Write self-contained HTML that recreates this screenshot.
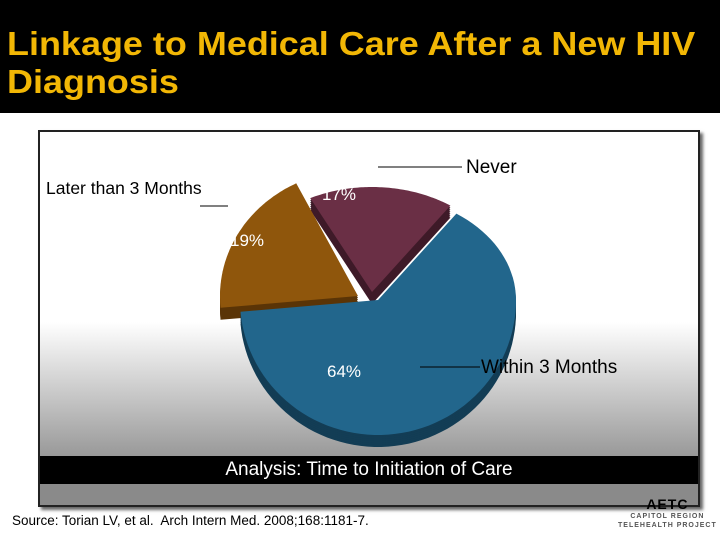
<!DOCTYPE html>
<html><head><meta charset="utf-8"><style>
body{margin:0;width:720px;height:540px;background:#fff;position:relative;overflow:hidden;font-family:"Liberation Sans",sans-serif}
#title{position:absolute;left:0;top:0;width:720px;height:113px;background:#000}
#title div{position:absolute;left:7px;top:25px;color:#f2b705;font-size:33px;line-height:38px;font-weight:bold;transform:scaleX(1.09);transform-origin:0 0;white-space:nowrap}
#box{position:absolute;left:38px;top:130px;width:662px;height:377px;box-sizing:border-box;border:2px solid #222;background:linear-gradient(#fff 0px,#fff 190px,#999 324px);box-shadow:3px 3px 3px #666}
#band{position:absolute;left:0;top:324px;width:658px;height:28px;background:#000;color:#fff;font-size:19px;text-align:center;line-height:28px}
#gray{position:absolute;left:0;top:352px;width:658px;height:21px;background:#8a8a8a}
#src{position:absolute;left:12px;top:513px;font-size:13.5px;color:#000}
#logo{position:absolute;left:618px;top:500px;font-size:7px;font-weight:bold;color:#555;text-align:center;letter-spacing:1px;line-height:9px}
</style></head><body>
<div id="title"><div>Linkage to Medical Care After a New HIV<br>Diagnosis</div></div>
<div id="box">
<div id="band">Analysis: Time to Initiation of Care</div>
<div id="gray"></div>
</div>
<svg id="chart" width="720" height="540" style="position:absolute;left:0;top:0"></svg>
<div id="src">Source: Torian LV, et al.&nbsp; Arch Intern Med. 2008;168:1181-7.</div>
<div id="logo"><span style="font-size:14px;color:#000">AETC</span><br>CAPITOL REGION<br>TELEHEALTH PROJECT</div>
<script>
const categories=["Later than 3 Months","Never","Within 3 Months"];
const values=[19,17,64];
const colors=["#8f560c","#6a2f45","#22668c"];
const dark=["#5a3406","#3e1a28","#133d55"];
const offsets=[[-20,-4],[-6,-8],[0,0]];
const topScale=[1.2,1,1];
const svg=document.getElementById('chart');
const NS="http://www.w3.org/2000/svg";
const cx=378,cy=300,rx=138,ryTop=105,ryBot=135,depth=12;
const total=values.reduce((a,b)=>a+b,0);
function pt(a,dx,dy,d,ts){const s=Math.sin(a);return [cx+dx+rx*Math.cos(a),cy+dy+d+(s<0?ryTop*ts:ryBot)*s];}
let start=175*Math.PI/180;
const arcs=[];
values.forEach((v,i)=>{const sweep=v/total*2*Math.PI;arcs.push([start,start+sweep]);start+=sweep;});
function wedge(i,d,fill){
 const [a0,a1]=arcs[i];const [dx,dy]=offsets[i];
 let s=`M${cx+dx},${cy+dy+d}`;
 const n=80;
 for(let k=0;k<=n;k++){const p=pt(a0+(a1-a0)*k/n,dx,dy,d,topScale[i]);s+=` L${p[0].toFixed(1)},${p[1].toFixed(1)}`;}
 const p=document.createElementNS(NS,'path');
 p.setAttribute('d',s+' Z');
 p.setAttribute('fill',fill);
 
 
 svg.appendChild(p);
}
values.forEach((v,i)=>{for(let d=depth;d>0;d-=2)wedge(i,d,dark[i]);});
values.forEach((v,i)=>wedge(i,0,colors[i]));
function line(x1,y1,x2,y2,name){const l=document.createElementNS(NS,'line');l.setAttribute('x1',x1);l.setAttribute('y1',y1);l.setAttribute('x2',x2);l.setAttribute('y2',y2);l.setAttribute('stroke','#000');l.setAttribute('stroke-width','1');


svg.appendChild(l);}
function text(x,y,s,name,fill,size){const t=document.createElementNS(NS,'text');t.setAttribute('x',x);t.setAttribute('y',y);t.setAttribute('fill',fill);t.setAttribute('font-size',size);t.setAttribute('font-family','Liberation Sans, sans-serif');t.textContent=s;


svg.appendChild(t);}
line(378,167,462,167,'leader-never');
line(200,206,228,206,'leader-later');
line(420,367,480,367,'leader-within');
text(466,173,categories[1],'label-never','#000',19);
text(46,194,categories[0],'label-later','#000',17.5);
text(481,373,categories[2],'label-within','#000',19);
text(322,200,values[1]+'%','value-never','#fff',17);
text(230,246,values[0]+'%','value-later','#fff',17);
text(327,377,values[2]+'%','value-within','#fff',17);
</script>
</body></html>
